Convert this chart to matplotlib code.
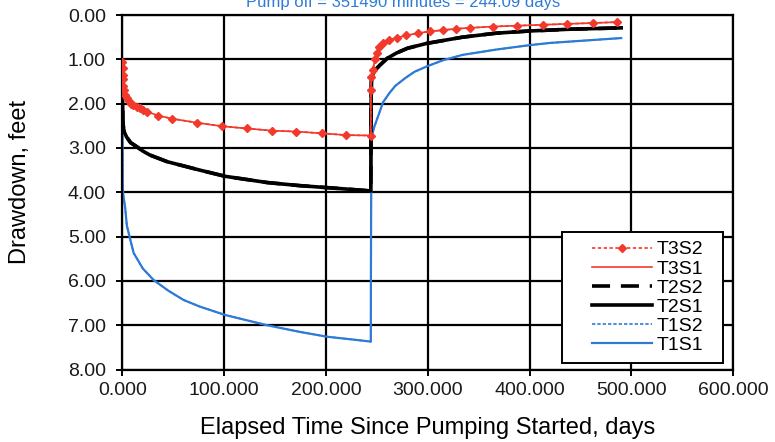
import matplotlib
matplotlib.use("Agg")
import matplotlib.pyplot as plt
from matplotlib.patches import Rectangle
from matplotlib.ticker import FormatStrFormatter, MultipleLocator

plt.rcParams['font.family'] = ['Liberation Sans', 'DejaVu Sans']

# T3 (red) - drawdown in feet vs elapsed days
t3_days = [0.01, 0.1, 0.3, 0.6, 1, 1.5, 2.5, 4.3, 6, 8, 10.8, 14, 17.3, 20, 23.8,
           35, 49, 73, 98, 122, 147, 171, 196, 220, 244,
           244.1, 244.5, 246, 248, 250, 252.4, 256, 262, 270, 279, 290, 302, 315,
           328, 341, 364, 388, 413, 437, 462, 486]
t3_draw = [1.05, 1.2, 1.35, 1.45, 1.6, 1.7, 1.8, 1.88, 1.95, 2.0, 2.03, 2.07, 2.1, 2.14, 2.18,
           2.27, 2.34, 2.43, 2.51, 2.56, 2.61, 2.63, 2.67, 2.71, 2.72,
           1.7, 1.4, 1.25, 1.0, 0.85, 0.72, 0.63, 0.56, 0.51, 0.46, 0.41, 0.37, 0.34,
           0.31, 0.29, 0.26, 0.24, 0.22, 0.2, 0.18, 0.16]

# T2 (black)
t2_days = [0.01, 0.2, 0.4, 1, 2, 4, 8, 14, 20, 27, 44, 76, 101, 142, 174, 210, 244,
           244.1, 244.3, 244.6, 245.5, 248, 253, 260, 269, 280, 299, 334, 367, 400, 440, 490]
t2_draw = [1.5, 2.0, 2.37, 2.55, 2.65, 2.75, 2.88, 2.97, 3.07, 3.16, 3.31, 3.5, 3.64, 3.78, 3.85, 3.91, 3.97,
           3.0, 2.0, 1.5, 1.37, 1.25, 1.13, 0.98, 0.86, 0.75, 0.64, 0.5, 0.41, 0.36, 0.32, 0.29]

# T1 (blue)
t1_days = [0.01, 0.3, 1, 2.6, 4.3, 7.5, 11, 20, 30.6, 45, 60, 76, 101, 142, 174, 201, 225, 244,
           244.1, 244.3, 244.6, 245, 247, 250, 256, 262, 268, 278, 287, 299, 315, 334, 367, 400, 420, 490]
t1_draw = [2.5, 3.9, 4.1, 4.33, 4.75, 5.05, 5.37, 5.72, 5.98, 6.22, 6.43, 6.58, 6.77, 7.0, 7.15, 7.26, 7.32, 7.37,
           6.0, 4.5, 3.2, 2.75, 2.55, 2.36, 1.97, 1.77, 1.6, 1.42, 1.28, 1.16, 1.02, 0.9, 0.78, 0.68, 0.63, 0.52]

red = '#f2392c'
blue = '#2e7bd6'

fig = plt.figure(figsize=(7.75, 4.42), dpi=100)
ax = fig.add_axes([0.158, 0.164, 0.788, 0.802])

ax.plot(t3_days, t3_draw, color=red, lw=1.2, ls=(0, (2, 1.5)), marker='D', ms=4.5,
        label='T3S2', zorder=5)
ax.plot(t3_days, t3_draw, color=red, lw=1.2, label='T3S1', zorder=4)
ax.plot(t2_days, t2_draw, color='black', lw=2.6, ls=(0, (5, 3)), label='T2S2', zorder=3)
ax.plot(t2_days, t2_draw, color='black', lw=2.6, label='T2S1', zorder=3)
ax.plot(t1_days, t1_draw, color=blue, lw=1.2, ls=(0, (2, 1.2)), label='T1S2', zorder=2)
ax.plot(t1_days, t1_draw, color=blue, lw=1.6, label='T1S1', zorder=2)

ax.set_xlim(0, 600)
ax.set_ylim(8, 0)
ax.xaxis.set_major_locator(MultipleLocator(100))
ax.yaxis.set_major_locator(MultipleLocator(1))
ax.xaxis.set_major_formatter(FormatStrFormatter('%.3f'))
ax.yaxis.set_major_formatter(FormatStrFormatter('%.2f'))
ax.grid(True, color='black', lw=1.6)
ax.set_axisbelow(True)
for s in ax.spines.values():
    s.set_linewidth(1.6)
ax.tick_params(direction='inout', length=8, width=1.4, labelsize=14,
               colors='black', labelcolor='#1a1a1a')
ax.tick_params(axis='y', pad=8)
ax.tick_params(axis='x', pad=5)

ax.set_xlabel('Elapsed Time Since Pumping Started, days', fontsize=17, va='center')
ax.set_ylabel('Drawdown, feet', fontsize=17, va='center')
ax.xaxis.set_label_coords(0.5, -0.165)
ax.yaxis.set_label_coords(-0.167, 0.53)

fig.text(0.52, 0.994, 'Pump off = 351490 minutes = 244.09 days', color=blue,
         fontsize=12, ha='center', va='center')

# legend box drawn separately so the padding matches the original
ax.add_patch(Rectangle((0.72, 0.018), 0.264, 0.37, transform=ax.transAxes,
                       facecolor='white', edgecolor='black', lw=1.4, zorder=9))
leg = ax.legend(loc='center', bbox_to_anchor=(0.86, 0.203), fontsize=14,
                handlelength=3.1, handletextpad=0.25, labelspacing=0.08,
                borderpad=0, frameon=False)
leg.set_zorder(10)

fig.savefig('out.png', dpi=100)
